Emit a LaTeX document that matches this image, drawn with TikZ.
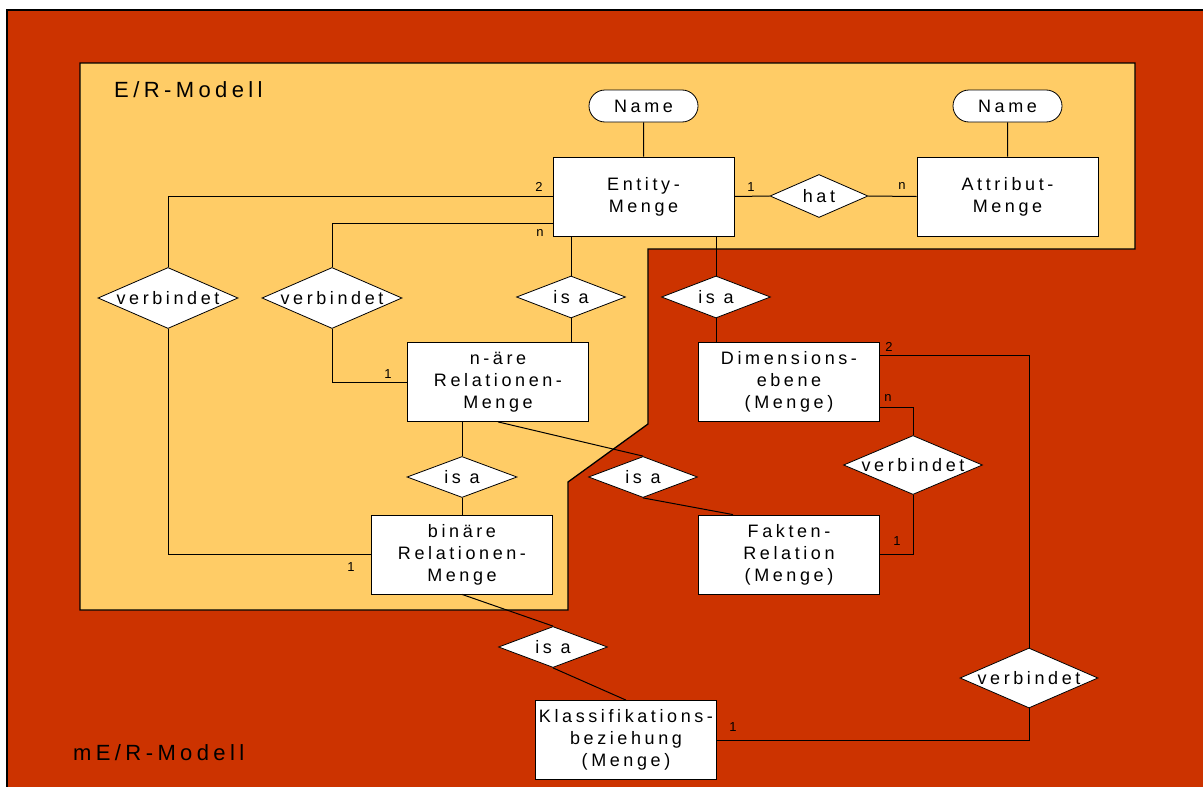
\documentclass[tikz,border=0pt]{standalone}
\usepackage{fontspec}
\setmainfont{Liberation Sans}[LetterSpace=20.0]
\newfontfamily\lblfont{Liberation Sans}
\usetikzlibrary{shapes.geometric,shapes.misc}

\definecolor{merred}{HTML}{CC3300}
\definecolor{erlight}{HTML}{FFCC66}

\tikzset{
  entbox/.style={draw=black, line width=0.8pt, fill=white, rectangle, inner sep=0pt,
    minimum width=181pt, minimum height=79pt, align=center,
    font=\fontsize{18}{22}\selectfont},
  relbox/.style={draw=black, line width=0.8pt, fill=white, diamond, inner sep=0pt,
    shape aspect=2.5, font=\fontsize{18}{22}\selectfont},
  attrbox/.style={draw=black, line width=0.8pt, fill=white, rounded rectangle,
    inner sep=0pt, minimum width=109pt, minimum height=32pt,
    font=\fontsize{18}{22}\selectfont},
  conn/.style={draw=black, line width=1pt},
  card/.style={font=\lblfont\fontsize{13}{15}\selectfont, inner sep=0pt},
  modeltitle/.style={font=\fontsize{22}{26}\selectfont, inner sep=0pt, anchor=base west}
}

\begin{document}
\begin{tikzpicture}[x=1pt,y=-1pt]
\useasboundingbox (0,0) rectangle (1203,787);
\clip (0,0) rectangle (1203,787);

% mE/R model area
\draw[fill=merred, line width=1.5pt] (7,10) rectangle (1212,796);
% E/R model area (inner region with cut-out)
\draw[fill=erlight, line width=1.3pt]
  (80,63) -- (1135,63) -- (1135,249) -- (648,249) -- (648,424)
  -- (568,482) -- (568,610) -- (80,610) -- cycle;

\node[modeltitle] (ertitle) at (114,97) {E/R-Modell};
\node[modeltitle] (mertitle) at (73,760) {mE/R-Modell};

% entity sets
\node[entbox] (entity) at (643.5,196.5) {Entity-\\Menge};
\node[entbox] (attribut) at (1007.5,196.5) {Attribut-\\Menge};
\node[entbox] (nary) at (498,382) {n-äre\\Relationen-\\Menge};
\node[entbox] (dim) at (789,382) {Dimensions-\\ebene\\(Menge)};
\node[entbox] (binary) at (462,554.5) {binäre\\Relationen-\\Menge};
\node[entbox] (fakten) at (789,554.5) {Fakten-\\Relation\\(Menge)};
\node[entbox] (klass) at (626,740) {Klassifikations-\\beziehung\\(Menge)};

% attributes
\node[attrbox] (name1) at (643.5,106) {Name};
\node[attrbox] (name2) at (1007.5,106) {Name};

% relationships
\node[relbox, minimum width=98pt, minimum height=43pt] (hat) at (819,196) {\makebox[0pt]{hat}};
\node[relbox, minimum width=140pt, minimum height=61pt] (verb1) at (168,298) {\makebox[0pt]{verbindet}};
\node[relbox, minimum width=140pt, minimum height=61pt] (verb2) at (332,298) {\makebox[0pt]{verbindet}};
\node[relbox, minimum width=109pt, minimum height=42pt] (isa1) at (571,297) {\makebox[0pt]{is a}};
\node[relbox, minimum width=109pt, minimum height=42pt] (isa2) at (716,297) {\makebox[0pt]{is a}};
\node[relbox, minimum width=110pt, minimum height=41pt] (isa3) at (462,477) {\makebox[0pt]{is a}};
\node[relbox, minimum width=109pt, minimum height=41pt] (isa4) at (643,477) {\makebox[0pt]{is a}};
\node[relbox, minimum width=109pt, minimum height=41pt] (isa5) at (553,647) {\makebox[0pt]{is a}};
\node[relbox, minimum width=139pt, minimum height=59pt] (verb3) at (913,465) {\makebox[0pt]{verbindet}};
\node[relbox, minimum width=138pt, minimum height=60pt] (verb4) at (1029,678) {\makebox[0pt]{verbindet}};

% connectors
\begin{scope}[on background layer/.style={}]
\draw[conn] (name1) -- (entity);
\draw[conn] (name2) -- (attribut);
\draw[conn] (entity.east) -- (hat.west);
\draw[conn] (hat.east) -- (attribut.west);
\draw[conn] (entity.west) -| (verb1.north);
\draw[conn] ([yshift=13pt]entity.south west) -| (verb2.north);
\draw[conn] (verb1.south) |- (binary.west);
\draw[conn] (verb2.south) |- (nary.west);
\draw[conn] (isa1.north |- entity.south) -- (isa1.north);
\draw[conn] (isa1.south) -- (isa1.south |- nary.north);
\draw[conn] (isa2.north |- entity.south) -- (isa2.north);
\draw[conn] (isa2.south) -- (isa2.south |- dim.north);
\draw[conn] (isa3.north |- nary.south) -- (isa3.north);
\draw[conn] (isa3.south) -- (isa3.south |- binary.north);
\draw[conn] (nary.south) -- (isa4.north);
\draw[conn] (isa4.south) -- ([xshift=-56pt]fakten.north);
\draw[conn] (binary.south) -- (isa5.north);
\draw[conn] (isa5.south) -- (klass.north);
\draw[conn] ([yshift=-13pt]dim.north east) -| (verb4.north);
\draw[conn] (verb4.south) |- (klass.east);
\draw[conn] ([yshift=14pt]dim.south east) -| (verb3.north);
\draw[conn] (verb3.south) |- (fakten.east);
\end{scope}

% cardinalities
\node[card] (c1) at (539,187) {2};
\node[card] (c2) at (540,233) {n};
\node[card] (c3) at (751,187) {1};
\node[card] (c4) at (902,186) {n};
\node[card] (c5) at (388,374) {1};
\node[card] (c6) at (351,567) {1};
\node[card] (c7) at (889,347) {2};
\node[card] (c8) at (888,398) {n};
\node[card] (c9) at (897,541) {1};
\node[card] (c10) at (733,727) {1};
\end{tikzpicture}
\end{document}
